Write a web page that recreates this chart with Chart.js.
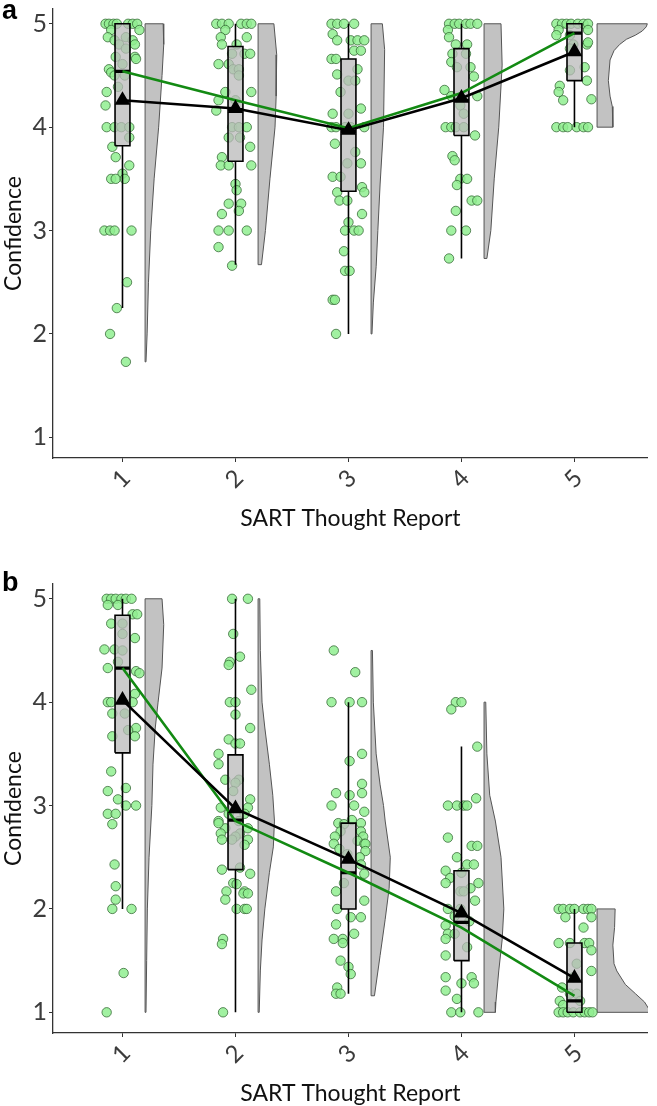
<!DOCTYPE html>
<html>
<head>
<meta charset="utf-8">
<script src="https://cdn.jsdelivr.net/npm/chart.js@4.4.1/dist/chart.umd.min.js"></script>
<style>
  html, body { margin: 0; padding: 0; background: #fff; overflow: hidden; }
  body { width: 657px; height: 1106px; position: relative; }
  canvas { position: absolute; left: 0; }
  .tag { position: absolute; left: 2px; font: bold 27px Arial, "Liberation Sans", sans-serif; line-height: 27px; color: #000; }
</style>
</head>
<body>
<canvas id="chartA" width="657" height="540" style="top:0"></canvas>
<canvas id="chartB" width="657" height="540" style="top:575px"></canvas>
<div class="tag" style="top:-3px">a</div>
<div class="tag" style="top:569px">b</div>
<script>
// raincloud: violin + pontos + boxplot + media (preto) + tendencia (verde)
const categories = [1, 2, 3, 4, 5]
const xTickLabels = ['1', '2', '3', '4', '5']
const yTicks = [1, 2, 3, 4, 5]

// ---- painel a ----
const meanA = [4.26, 4.18, 3.97, 4.28, 4.73]
const trendA = [4.54, 4.26, 3.99, 4.33, 4.91]
const medianA = [4.54, 4.17, 3.96, 4.26, 4.91]
const q1A = [3.82, 3.67, 3.38, 3.92, 4.45]
const q3A = [5.0, 4.78, 4.66, 4.76, 5.0]
const whiskLoA = [2.25, 2.67, 2.0, 2.73, 4.0]
const whiskHiA = [5, 5, 5, 5, 5]
// [jitter, confidence]
const pointsA = [
  [[-0.15,5],[-0.12,5],[-0.08,5],[-0.05,5],[0.05,5],[0.09,5],[0.13,5],[-0.10,4.94],[0.15,4.94],[-0.13,4.87],[0.03,4.87],
   [-0.07,4.84],[0.09,4.84],[-0.03,4.80],[0.11,4.80],[0.03,4.76],[-0.06,4.68],[0.11,4.68],[0.12,4.66],[0.0,4.61],
   [-0.12,4.56],[-0.10,4.53],[-0.07,4.50],[0.02,4.50],[-0.04,4.39],[-0.14,4.34],[-0.15,4.21],[-0.14,4.0],[-0.07,4.0],
   [-0.01,4.0],[0.06,4.0],[0.06,3.90],[-0.09,3.81],[-0.06,3.71],[0.06,3.63],[0.0,3.55],[-0.10,3.50],[-0.06,3.50],
   [0.02,3.50],[-0.16,3.0],[-0.11,3.0],[-0.07,3.0],[0.08,3.0],[0.04,2.5],[-0.05,2.25],[-0.11,2.0],[0.03,1.73]],
  [[-0.17,5],[-0.12,5],[-0.06,5],[0.05,5],[0.10,5],[0.14,5],[-0.09,4.94],[-0.13,4.87],[0.10,4.87],[-0.12,4.80],[0.01,4.80],
   [-0.03,4.71],[0.08,4.71],[0.13,4.71],[-0.15,4.61],[-0.06,4.61],[-0.02,4.56],[0.03,4.56],[0.03,4.50],[-0.09,4.34],
   [0.14,4.34],[-0.15,4.26],[0.0,4.26],[-0.17,4.16],[-0.03,4.0],[0.03,4.0],[0.10,4.0],[-0.06,3.90],[0.04,3.90],
   [0.13,3.81],[-0.12,3.71],[-0.13,3.63],[-0.06,3.63],[0.14,3.63],[0.0,3.45],[0.01,3.39],[-0.06,3.26],[0.05,3.26],
   [0.03,3.19],[-0.12,3.16],[-0.15,3.0],[-0.06,3.0],[0.10,3.0],[-0.15,2.84],[-0.03,2.66]],
  [[-0.15,5],[-0.10,5],[-0.04,5],[0.05,5],[-0.14,4.90],[-0.10,4.84],[0.02,4.84],[0.08,4.84],[0.14,4.84],[0.05,4.74],
   [0.11,4.74],[-0.15,4.66],[-0.11,4.66],[0.08,4.56],[-0.10,4.51],[0.0,4.45],[0.06,4.45],[-0.07,4.34],[0.11,4.18],
   [-0.14,4.13],[0.0,4.13],[-0.15,4.0],[-0.11,4.0],[-0.03,4.0],[0.02,4.0],[0.14,4.0],[-0.12,3.84],[0.06,3.76],
   [-0.01,3.65],[0.11,3.65],[-0.14,3.52],[-0.07,3.52],[0.12,3.42],[-0.10,3.37],[0.14,3.37],[-0.08,3.29],[-0.01,3.29],
   [0.12,3.16],[0.0,3.08],[-0.03,3.0],[0.05,3.0],[0.09,3.0],[-0.04,2.80],[-0.03,2.61],[0.01,2.61],[-0.14,2.33],
   [-0.12,2.33],[-0.11,2.0]],
  [[-0.11,5],[-0.06,5],[-0.02,5],[0.04,5],[0.08,5],[0.14,5],[-0.12,4.94],[-0.11,4.87],[-0.05,4.80],[0.05,4.80],
   [-0.08,4.71],[0.04,4.71],[-0.09,4.63],[-0.04,4.58],[0.08,4.58],[0.11,4.49],[-0.15,4.36],[-0.09,4.30],[0.14,4.30],
   [-0.01,4.21],[0.02,4.13],[-0.14,4.0],[-0.09,4.0],[-0.05,4.0],[0.02,4.0],[0.12,3.92],[-0.08,3.72],[-0.06,3.68],
   [-0.01,3.50],[0.05,3.50],[-0.04,3.44],[0.09,3.29],[0.14,3.29],[-0.05,3.19],[-0.09,3.0],[0.04,3.0],[-0.11,2.73]],
  [[-0.16,5],[-0.11,5],[-0.07,5],[-0.03,5],[0.03,5],[0.08,5],[0.12,5],[-0.14,4.94],[0.12,4.94],[-0.16,4.89],[-0.04,4.89],
   [-0.01,4.80],[0.11,4.80],[0.12,4.82],[-0.04,4.76],[0.09,4.58],[-0.04,4.55],[0.11,4.45],[-0.13,4.40],[-0.14,4.34],
   [0.15,4.27],[-0.10,4.26],[-0.16,4.0],[-0.10,4.0],[-0.06,4.0],[0.02,4.0],[0.08,4.0],[0.12,4.0]]
]
// [confidence, densidade]
const violinA = [
  [[5,0.16],[4.8,0.165],[4.5,0.15],[4.0,0.12],[3.5,0.08],[3.0,0.05],[2.5,0.03],[2.0,0.018],[1.73,0.008]],
  [[5,0.14],[4.7,0.165],[4.3,0.16],[4.0,0.15],[3.5,0.105],[3.0,0.065],[2.67,0.03]],
  [[5,0.1],[4.75,0.12],[4.0,0.11],[3.45,0.08],[3.0,0.06],[2.65,0.045],[2.3,0.02],[2.0,0.008]],
  [[5,0.15],[4.6,0.16],[4.0,0.13],[3.5,0.09],[3.0,0.06],[2.73,0.025]],
  [[5,0.445],[4.97,0.435],[4.93,0.4],[4.89,0.34],[4.85,0.26],[4.8,0.2],[4.74,0.15],[4.65,0.115],[4.45,0.1],[4.3,0.115],[4.2,0.135],[4.0,0.14]]
]

// ---- painel b ----
const meanB = [4.02, 2.97, 2.48, 1.96, 1.33]
const trendB = [4.33, 2.85, 2.35, 1.82, 1.16]
const medianB = [4.33, 2.86, 2.35, 1.87, 1.11]
const q1B = [3.51, 2.38, 2.0, 1.5, 1.0]
const q3B = [4.84, 3.49, 2.83, 2.37, 1.67]
const whiskLoB = [2.0, 1.0, 1.18, 1.0, 1.0]
const whiskHiB = [5.0, 5.0, 4.0, 3.57, 2.0]
const pointsB = [
  [[-0.14,5],[-0.10,5],[-0.06,5],[-0.01,5],[0.03,5],[0.08,5],[-0.13,4.94],[-0.04,4.94],[0.09,4.85],[0.13,4.85],
   [-0.10,4.76],[0.0,4.76],[0.0,4.66],[0.11,4.62],[-0.16,4.51],[-0.07,4.51],[0.0,4.50],[-0.04,4.39],[-0.13,4.33],
   [0.12,4.30],[0.15,4.28],[0.11,4.08],[-0.13,4.0],[-0.10,4.0],[0.09,4.0],[-0.09,3.89],[0.02,3.89],[0.12,3.75],
   [0.05,3.73],[-0.09,3.67],[0.11,3.67],[-0.10,3.33],[0.03,3.17],[-0.13,3.14],[-0.04,3.06],[0.03,3.0],[0.12,3.0],
   [-0.13,2.92],[-0.06,2.92],[-0.09,2.82],[-0.07,2.43],[-0.06,2.22],[-0.06,2.09],[-0.09,2.0],[0.08,2.0],[0.01,1.38],
   [-0.14,1.0]],
  [[-0.03,5],[0.11,5],[-0.02,4.66],[0.04,4.44],[-0.05,4.39],[-0.06,4.36],[0.14,4.12],[-0.05,4.0],[0.0,4.0],[0.0,3.88],
   [0.13,3.75],[-0.06,3.64],[0.0,3.6],[0.04,3.6],[-0.15,3.5],[-0.15,3.4],[-0.09,3.25],[0.03,3.25],[0.0,3.22],
   [-0.02,3.14],[0.13,3.06],[-0.13,2.98],[0.11,2.98],[-0.06,2.92],[0.08,2.92],[-0.15,2.85],[0.03,2.85],[-0.09,2.78],
   [0.11,2.78],[-0.15,2.83],[-0.13,2.73],[0.04,2.73],[0.0,2.70],[-0.12,2.67],[-0.03,2.67],[0.11,2.67],[0.08,2.62],
   [0.04,2.40],[-0.12,2.38],[0.13,2.34],[-0.02,2.25],[0.01,2.24],[-0.08,2.17],[0.08,2.17],[0.07,2.15],[0.11,2.15],
   [-0.09,2.09],[0.01,2.0],[0.08,2.0],[0.10,2.0],[-0.11,1.71],[-0.12,1.66],[-0.11,1.0]],
  [[-0.13,4.5],[0.06,4.29],[-0.15,4.0],[0.01,4.0],[0.12,4.0],[0.12,3.5],[0.01,3.43],[0.12,3.21],[-0.11,3.12],[0.12,3.12],
   [0.01,3.1],[-0.15,3.0],[0.05,3.0],[0.14,2.94],[-0.09,2.83],[0.11,2.83],[0.03,2.86],[-0.04,2.82],[-0.07,2.75],
   [0.11,2.75],[-0.12,2.70],[0.13,2.70],[0.08,2.66],[-0.13,2.63],[0.14,2.63],[0.15,2.63],[-0.08,2.58],[0.15,2.56],
   [-0.01,2.53],[0.10,2.50],[0.11,2.43],[0.14,2.34],[-0.04,2.25],[-0.11,2.17],[0.14,2.08],[-0.10,2.0],[0.02,1.92],
   [0.11,1.92],[-0.11,1.85],[0.05,1.76],[-0.13,1.71],[-0.05,1.71],[-0.05,1.67],[-0.07,1.5],[0.0,1.44],[0.02,1.37],
   [-0.10,1.24],[-0.11,1.18],[-0.07,1.18]],
  [[-0.05,4.0],[0.0,4.0],[-0.09,3.93],[0.14,3.57],[0.13,3.07],[-0.12,3.0],[-0.04,3.0],[0.02,3.0],[0.05,3.0],[-0.12,2.69],
   [0.09,2.61],[0.14,2.61],[-0.04,2.5],[0.05,2.43],[0.11,2.43],[-0.14,2.37],[0.0,2.35],[-0.10,2.30],[-0.14,2.25],
   [0.15,2.25],[0.08,2.20],[-0.01,2.17],[0.02,2.17],[0.12,2.08],[-0.12,2.0],[-0.01,2.0],[-0.06,1.93],[0.07,1.88],
   [-0.14,1.84],[-0.12,1.76],[-0.06,1.76],[-0.14,1.71],[0.05,1.63],[-0.14,1.55],[-0.14,1.34],[0.09,1.34],[0.0,1.28],
   [0.11,1.28],[-0.14,1.21],[-0.04,1.13],[-0.09,1.0],[-0.01,1.0],[0.15,1.0]],
  [[-0.14,2],[-0.10,2],[-0.04,2],[0.0,2],[0.08,2],[0.12,2],[0.15,2],[-0.08,1.92],[0.15,1.92],[0.08,1.82],[-0.14,1.67],
   [-0.04,1.67],[0.09,1.67],[0.13,1.67],[0.15,1.6],[0.02,1.47],[0.15,1.4],[-0.01,1.34],[-0.11,1.24],[-0.04,1.18],
   [0.02,1.18],[-0.13,1.11],[0.05,1.11],[-0.10,1.07],[-0.14,1],[-0.10,1],[-0.06,1],[-0.01,1],[0.05,1],[0.09,1],
   [0.13,1],[0.16,1]]
]
const violinB = [
  [[5,0.15],[4.75,0.165],[4.33,0.15],[4.0,0.115],[3.75,0.09],[3.4,0.07],[3.0,0.06],[2.5,0.035],[2.0,0.02],[1.5,0.014],[1.0,0.008]],
  [[5,0.015],[4.5,0.02],[4.0,0.035],[3.75,0.06],[3.4,0.1],[3.1,0.13],[2.85,0.145],[2.6,0.135],[2.35,0.1],[2.0,0.06],[1.7,0.035],[1.4,0.02],[1.0,0.01]],
  [[4.5,0.012],[4.0,0.02],[3.5,0.045],[3.2,0.08],[3.0,0.11],[2.85,0.125],[2.5,0.17],[2.2,0.16],[1.9,0.125],[1.55,0.08],[1.16,0.03]],
  [[4.0,0.015],[3.5,0.025],[3.1,0.05],[2.85,0.1],[2.5,0.15],[2.0,0.175],[1.7,0.16],[1.4,0.13],[1.1,0.105],[1.0,0.1]],
  [[2.0,0.16],[1.82,0.155],[1.65,0.14],[1.47,0.15],[1.4,0.175],[1.27,0.25],[1.18,0.34],[1.1,0.42],[1.03,0.46],[1.0,0.46]]
]

const BOX_HALF = 0.066
const VIOLIN_GAP = 0.2
const FONT = 'Lato, "Open Sans", "DejaVu Sans", sans-serif'

function violinPoly(c, dens) {
  const xl = c + VIOLIN_GAP
  const pts = [{ x: xl, y: dens[0][0] }]
  dens.forEach(([y, w]) => pts.push({ x: xl + w, y }))
  pts.push({ x: xl, y: dens[dens.length - 1][0] })
  pts.push({ x: xl, y: dens[0][0] })
  return pts
}

function boxPoly(c, lo, hi) {
  return [
    { x: c - BOX_HALF, y: lo }, { x: c + BOX_HALF, y: lo },
    { x: c + BOX_HALF, y: hi }, { x: c - BOX_HALF, y: hi }, { x: c - BOX_HALF, y: lo }
  ]
}

function buildDatasets(p) {
  const ds = []
  categories.forEach((c, i) => {
    ds.push({
      data: violinPoly(c, p.violin[i]), showLine: true, fill: 'shape',
      backgroundColor: '#c2c2c2', borderColor: '#555', borderWidth: 1, pointRadius: 0, order: 6
    })
  })
  ds.push({
    data: p.points.flatMap((arr, i) => arr.map(([dx, y]) => ({ x: categories[i] + dx, y }))),
    pointRadius: 4.7, borderWidth: 1,
    backgroundColor: 'rgba(144,238,144,0.85)', borderColor: 'rgba(50,100,50,0.75)', order: 5
  })
  const whisk = []
  categories.forEach((c, i) => {
    whisk.push({ x: c, y: p.lo[i] }, { x: c, y: p.q1[i] }, { x: c, y: null },
               { x: c, y: p.q3[i] }, { x: c, y: p.hi[i] }, { x: c, y: null })
  })
  ds.push({ data: whisk, showLine: true, spanGaps: false, borderColor: '#000', borderWidth: 1.6, pointRadius: 0, order: 4 })
  categories.forEach((c, i) => {
    ds.push({
      data: boxPoly(c, p.q1[i], p.q3[i]), showLine: true, fill: 'shape',
      backgroundColor: 'rgba(185,185,185,0.75)', borderColor: '#000', borderWidth: 1.6, pointRadius: 0, order: 3
    })
  })
  const med = []
  categories.forEach((c, i) => {
    med.push({ x: c - BOX_HALF, y: p.median[i] }, { x: c + BOX_HALF, y: p.median[i] }, { x: c, y: null })
  })
  ds.push({ data: med, showLine: true, spanGaps: false, borderColor: '#000', borderWidth: 3.2, pointRadius: 0, order: 2 })
  ds.push({
    data: categories.map((c, i) => ({ x: c, y: p.trend[i] })), showLine: true,
    borderColor: '#138a13', borderWidth: 2.6, pointRadius: 0, order: 1
  })
  ds.push({
    data: categories.map((c, i) => ({ x: c, y: p.mean[i] })), showLine: true,
    borderColor: '#000', borderWidth: 2.6, pointStyle: 'triangle', pointRadius: 6.5,
    pointBackgroundColor: '#000', pointBorderColor: '#000', order: 0
  })
  return ds
}

function noPad(s) {
  s.paddingTop = 0; s.paddingBottom = 0; s.paddingLeft = 0; s.paddingRight = 0
}

function makeChart(id, p) {
  new Chart(document.getElementById(id), {
    type: 'scatter',
    data: { datasets: buildDatasets(p) },
    options: {
      responsive: false,
      animation: false,
      events: [],
      layout: { padding: { top: 2, right: 5, left: 0, bottom: 0 } },
      plugins: { legend: { display: false }, tooltip: { enabled: false } },
      scales: {
        x: {
          type: 'linear', min: 0.385, max: 5.65,
          afterFit: s => { s.height = 82; noPad(s) },
          afterBuildTicks: s => { s.ticks = categories.map(v => ({ value: v })) },
          grid: { display: true, drawOnChartArea: false, drawTicks: true, tickLength: 4, color: '#333' },
          border: { display: true, color: '#333', width: 1.3 },
          ticks: {
            font: { family: FONT, size: 24 }, color: '#3c3c3c', minRotation: 45, maxRotation: 45,
            padding: 2, labelOffset: 4, callback: (v, i) => xTickLabels[i]
          },
          title: { display: true, text: 'SART Thought Report', color: '#111', font: { family: FONT, size: 23 }, padding: { top: 0, bottom: 8 } }
        },
        y: {
          min: 0.8, max: 5.142,
          afterFit: s => { s.width = 53; noPad(s) },
          afterBuildTicks: s => { s.ticks = yTicks.map(v => ({ value: v })) },
          grid: { display: true, drawOnChartArea: false, drawTicks: true, tickLength: 4, color: '#333' },
          border: { display: true, color: '#333', width: 1.3 },
          ticks: { font: { family: FONT, size: 25 }, color: '#3c3c3c', padding: 2 },
          title: { display: true, text: 'Confidence', color: '#111', font: { family: FONT, size: 23 }, padding: 0 }
        }
      }
    }
  })
}

makeChart('chartA', {
  points: pointsA, violin: violinA, q1: q1A, q3: q3A, median: medianA,
  lo: whiskLoA, hi: whiskHiA, mean: meanA, trend: trendA
})
makeChart('chartB', {
  points: pointsB, violin: violinB, q1: q1B, q3: q3B, median: medianB,
  lo: whiskLoB, hi: whiskHiB, mean: meanB, trend: trendB
})
</script>
</body>
</html>
